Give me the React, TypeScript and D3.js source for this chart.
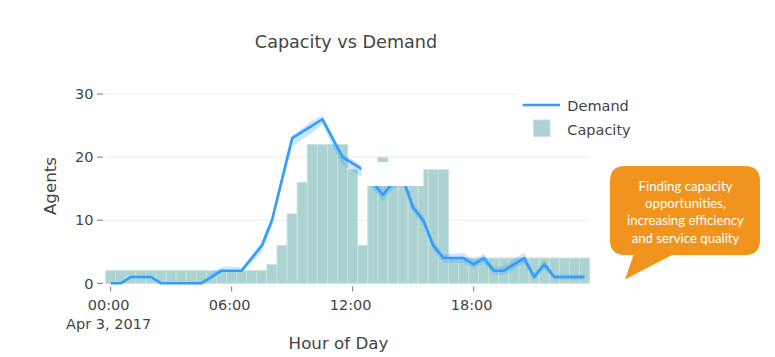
import React from "react";
import * as d3 from "d3";

const slots = [
  "00:00","00:30","01:00","01:30","02:00","02:30","03:00","03:30",
  "04:00","04:30","05:00","05:30","06:00","06:30","07:00","07:30",
  "08:00","08:30","09:00","09:30","10:00","10:30","11:00","11:30",
  "12:00","12:30","13:00","13:30","14:00","14:30","15:00","15:30",
  "16:00","16:30","17:00","17:30","18:00","18:30","19:00","19:30",
  "20:00","20:30","21:00","21:30","22:00","22:30","23:00","23:30",
];

const demand = [
  0, 0, 1, 1, 1, 0, 0, 0, 0, 0, 1, 2, 2, 2, 4, 6,
  10, 16.5, 23, 24, 25, 26, 23, 20, 19, 18, 16, 14, 16, 16.5, 12, 10,
  6, 4, 4, 4, 3, 4, 2, 2, 3, 4, 1, 3, 1, 1, 1, 1,
];

const demandLow = [
  0, 0, 0.8, 0.8, 0.8, 0, 0, 0, 0, 0, 0.7, 1.8, 1.9, 1.9, 3.2, 5,
  9, 15.5, 21.6, 22.8, 23.8, 25.2, 21.7, 18.7, 17.8, 16.8, 15, 13, 15, 15.5, 11.2, 9.2,
  5.2, 3.3, 3.3, 3.2, 2.3, 3.2, 1.4, 1.3, 2.2, 3.2, 0.5, 2.3, 0.6, 0.6, 0.6, 0.6,
];

const demandHigh = [
  0.2, 0.2, 1.2, 1.2, 1.2, 0.2, 0.2, 0.2, 0.2, 0.3, 1.6, 2.6, 2.7, 2.5, 4.5, 6.6,
  10.8, 17.2, 23.5, 24.6, 25.8, 26.6, 23.6, 20.5, 19.6, 18.6, 16.8, 15, 16.8, 17.3, 12.8, 10.7,
  6.7, 4.6, 4.7, 4.8, 3.7, 4.7, 2.6, 2.7, 3.8, 4.9, 1.6, 3.7, 1.4, 1.4, 1.4, 1.4,
];

const capacity = [
  2, 2, 2, 2, 2, 2, 2, 2, 2, 2, 2, 2, 2, 2, 2, 2,
  3, 6, 11, 16, 22, 22, 22, 22, 18, 6, 18, 20, 18, 18, 18, 18,
  18, 18, 4, 4, 4, 4, 4, 4, 4, 4, 4, 4, 4, 4, 4, 4,
];

const xTicks = ["00:00", "06:00", "12:00", "18:00"];
const yTicks = [0, 10, 20, 30];
const dateLabel = "Apr 3, 2017";
const title = "Capacity vs Demand";
const xTitle = "Hour of Day";
const yTitle = "Agents";
const seriesNames = ["Demand", "Capacity"];
const calloutLines = [
  "Finding capacity",
  "opportunities,",
  "increasing efficiency",
  "and service quality",
];

const toHour = (s: string) => {
  const [h, m] = s.split(":").map(Number);
  return h + m / 60;
};

const FONT = "'DejaVu Sans', Verdana, sans-serif";
const TXT = "#444";

export default function App() {
  const W = 775;
  const H = 357;
  const x = d3.scaleLinear().domain([-0.25, 23.75]).range([105.6, 589.6]);
  const y = d3.scaleLinear().domain([0, 30]).range([283.3, 94]);
  const hours = slots.map(toHour);
  const half = 0.25;

  const line = d3
    .line<number>()
    .x((_, i) => x(hours[i]))
    .y((d) => y(d));
  const band = d3
    .area<number>()
    .x((_, i) => x(hours[i]))
    .y0((_, i) => y(demandLow[i]))
    .y1((_, i) => y(demandHigh[i]));

  const lineColor = "#339cff";
  const barFill = "#abd3d1";
  const barStroke = "#c6e1df";

  const cx0 = 610, cx1 = 760, cy0 = 166, cy1 = 255, r = 15;
  const callout = `M${cx0 + r},${cy0} H${cx1 - r} Q${cx1},${cy0} ${cx1},${cy0 + r} V${cy1 - r} Q${cx1},${cy1} ${cx1 - r},${cy1} H672 L625,279.5 L633.5,${cy1} H${cx0 + r} Q${cx0},${cy1} ${cx0},${cy1 - r} V${cy0 + r} Q${cx0},${cy0} ${cx0 + r},${cy0} Z`;

  return (
    <svg
      width={W}
      height={H}
      style={{ position: "absolute", left: 0, top: 0, background: "#fff" }}
      fontFamily={FONT}
    >
      {yTicks.filter((t) => t > 0).map((t) => (
        <line key={t} x1={105.6} x2={589.6} y1={y(t)} y2={y(t)} stroke="#eaeaea" strokeWidth={1} />
      ))}

      {capacity.map((c, i) => (
        <rect
          key={i}
          x={x(hours[i] - half)}
          y={y(c)}
          width={x(hours[i] + half) - x(hours[i] - half)}
          height={y(0) - y(c)}
          fill={barFill}
          stroke={barStroke}
          strokeWidth={1}
        />
      ))}

      <path d={band(demand) || ""} fill="rgba(51,156,255,0.25)" stroke="none" />
      <path d={line(demand) || ""} fill="none" stroke={lineColor} strokeWidth={2.6} strokeLinejoin="round" />

      <rect x={361.5} y={162} width={62} height={24} fill="#fff" />

      {yTicks.map((t) => (
        <g key={t}>
          <line x1={97} x2={103} y1={y(t)} y2={y(t)} stroke="#777" strokeWidth={1} />
          <text x={93.5} y={y(t)} dy="0.36em" textAnchor="end" fontSize={14.5} fill={TXT}>
            {t}
          </text>
        </g>
      ))}
      <text transform={`translate(56,186) rotate(-90)`} textAnchor="middle" fontSize={16.7} fill={TXT}>
        {yTitle}
      </text>

      {xTicks.map((t) => (
        <g key={t}>
          <line x1={x(toHour(t))} x2={x(toHour(t))} y1={286.5} y2={291.5} stroke="#777" strokeWidth={1} />
          <text x={x(toHour(t)) - 2} y={310} textAnchor="middle" fontSize={14.5} fill={TXT}>
            {t}
          </text>
        </g>
      ))}
      <text x={x(0) - 2} y={329} textAnchor="middle" fontSize={14.5} fill={TXT}>
        {dateLabel}
      </text>
      <text x={338.5} y={348.5} textAnchor="middle" fontSize={16.7} fill={TXT}>
        {xTitle}
      </text>

      <text x={346} y={47.5} textAnchor="middle" fontSize={17.6} fill={TXT}>
        {title}
      </text>

      <rect x={517} y={88} width={130} height={55} fill="#fff" />
      <line x1={522.7} x2={560} y1={105} y2={105} stroke={lineColor} strokeWidth={2.6} />
      <text x={567.3} y={110.5} fontSize={14.5} fill={TXT}>
        {seriesNames[0]}
      </text>
      <rect x={533.5} y={120} width={16.5} height={16.5} fill={barFill} stroke={barStroke} strokeWidth={1} />
      <text x={567.3} y={134.8} fontSize={14.5} fill={TXT}>
        {seriesNames[1]}
      </text>

      <path d={callout} fill="#f0941d" />
      {calloutLines.map((l, i) => (
        <text
          key={i}
          x={685.5}
          y={191 + i * 17.2}
          textAnchor="middle"
          fontSize={13.2}
          fontFamily="Lato, 'Open Sans', sans-serif"
          fill="#fff"
        >
          {l}
        </text>
      ))}
    </svg>
  );
}
